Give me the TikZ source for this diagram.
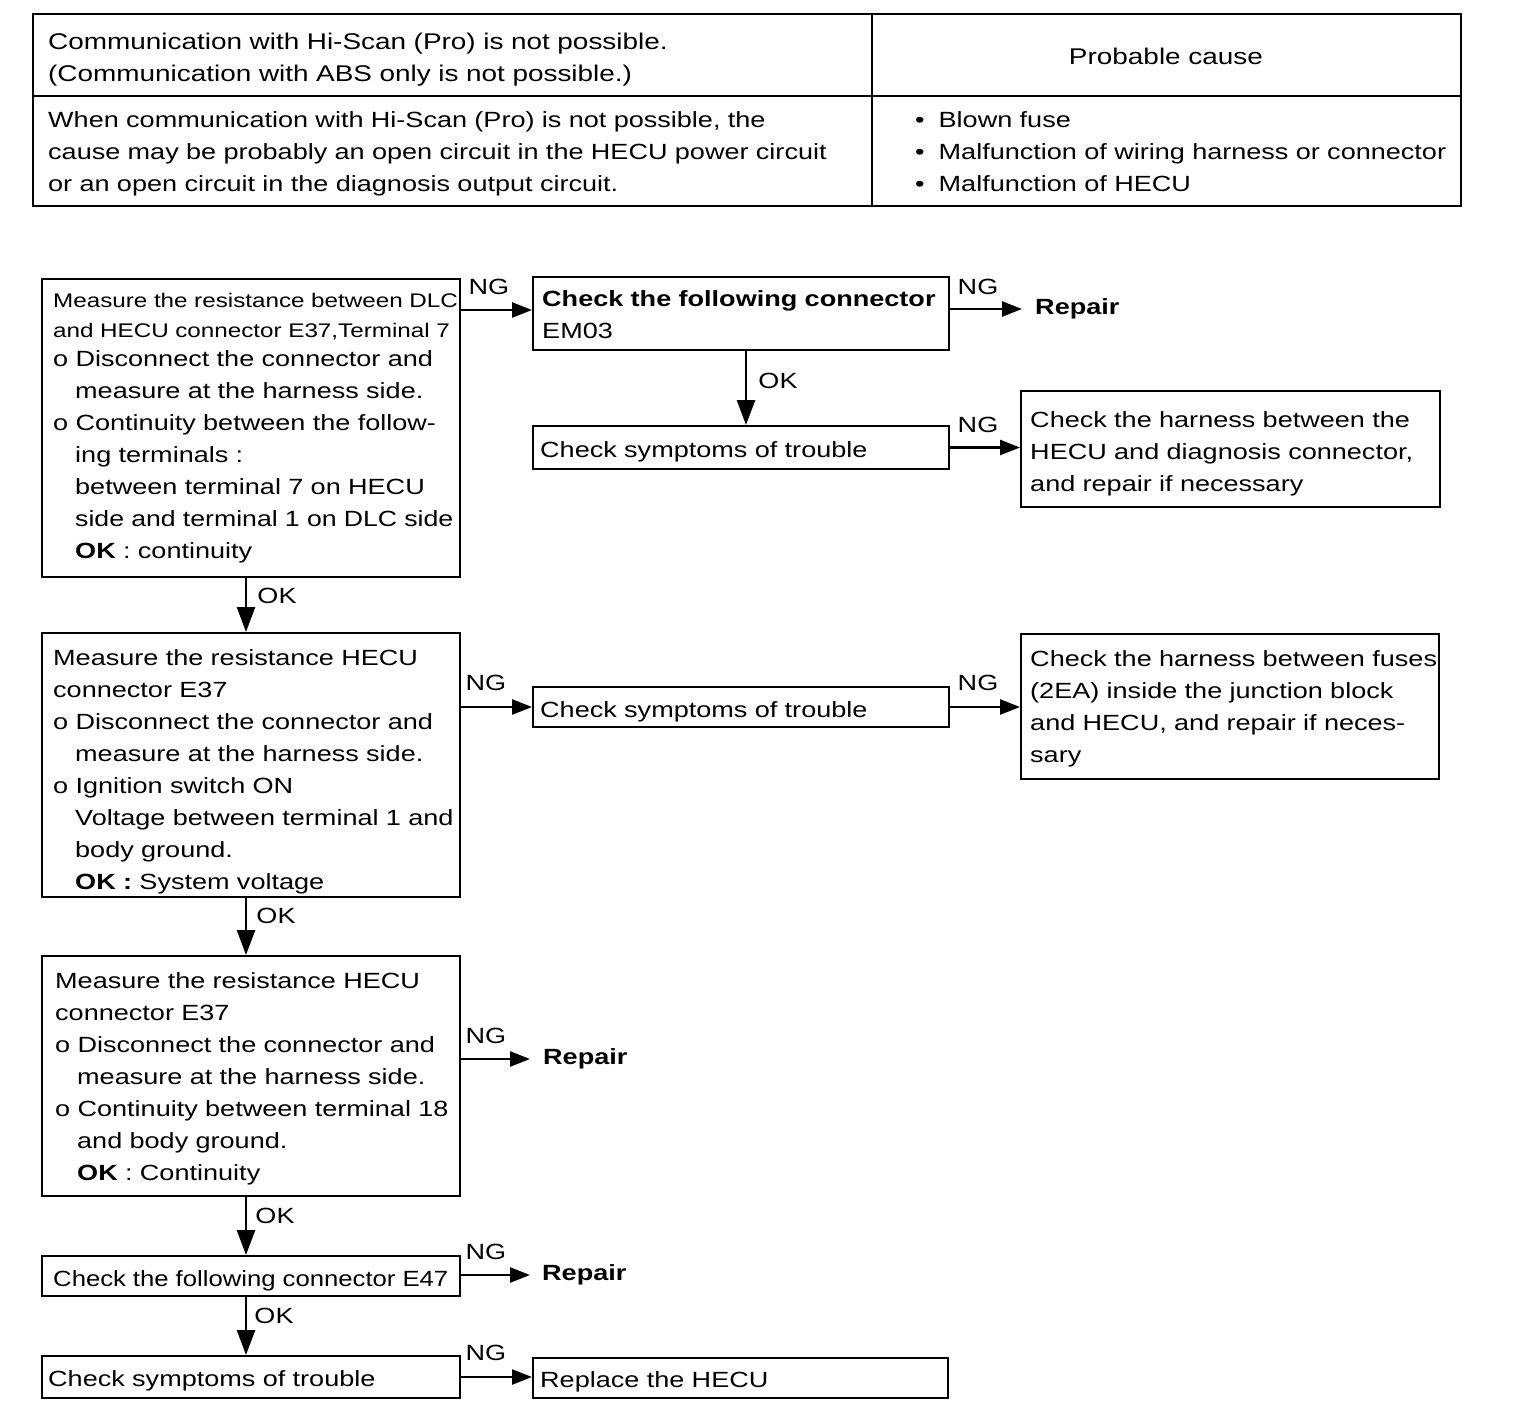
\documentclass[tikz,border=0pt]{standalone}
\usepackage{fontspec}
\setmainfont{Liberation Sans}[FakeStretch=1.23]
\usetikzlibrary{arrows.meta}
\newcommand{\ind}{\hspace*{22pt}}
\begin{document}
\begin{tikzpicture}[x=1pt,y=-1pt,
  box/.style={draw, line width=2pt, inner sep=0pt, anchor=north west},
  txt/.style={inner sep=0pt, anchor=base west, align=left, text width=1000pt, font=\fontsize{22}{32}\selectfont},
  ttxt/.style={inner sep=0pt, anchor=base west, align=left, text width=1000pt, font=\fontsize{22.7}{32}\selectfont},
  smalltxt/.style={inner sep=0pt, anchor=base west, align=left, text width=1000pt, font=\fontsize{19.7}{30}\selectfont},
  lbl/.style={inner sep=0pt, font=\fontsize{22}{26}\selectfont},
  rep/.style={inner sep=0pt, anchor=west, font=\bfseries\fontsize{22}{26}\selectfont},
  harr/.style={line width=2.5pt, -{Triangle[length=20pt,width=15pt]}},
  varr/.style={line width=2.5pt, -{Triangle[length=25pt,width=18pt]}},
  tbl/.style={line width=1.8pt}
]
\useasboundingbox (0,0) rectangle (1536,1408);

% ---------- table ----------
\draw[tbl] (33,14) rectangle (1461,206);
\draw[tbl] (872,14) -- (872,206);
\draw[tbl] (33,96) -- (1461,96);
\node[ttxt] (h1) at (48,49) {Communication with Hi-Scan (Pro) is not possible.\\(Communication with ABS only is not possible.)};
\node[inner sep=0pt, anchor=base, font=\fontsize{22.7}{32}\selectfont] (h2) at (1166,64) {Probable cause};
\node[txt] (d1) at (48,127) {When communication with Hi-Scan (Pro) is not possible, the\\cause may be probably an open circuit in the HECU power circuit\\or an open circuit in the diagnosis output circuit.};
\node[txt] (d2) at (915,127) {•\hspace{14pt}Blown fuse\\•\hspace{14pt}Malfunction of wiring harness or connector\\•\hspace{14pt}Malfunction of HECU};

% ---------- boxes ----------
\node[box, minimum width=418pt, minimum height=298pt] (b1) at (41,278) {};
\node[smalltxt] (t1a) at (53,307) {Measure the resistance between DLC\\and HECU connector E37,Terminal 7};
\node[txt] (t1b) at (53,366) {o Disconnect the connector and\\\ind measure at the harness side.\\o Continuity between the follow-\\\ind ing terminals :\\\ind between terminal 7 on HECU\\\ind \scalebox{0.985}[1]{side and terminal 1 on DLC side}\\\ind \textbf{OK} : continuity};

\node[box, minimum width=416pt, minimum height=73pt] (b2) at (532,276) {};
\node[txt] (t2) at (542,306) {\textbf{Check the following connector}\\EM03};
\node[rep] (r1) at (1035,309) {Repair};

\node[box, minimum width=416pt, minimum height=43pt] (b3) at (532,425) {};
\node[txt] (t3) at (540,457) {Check symptoms of trouble};

\node[box, minimum width=419pt, minimum height=116pt] (b4) at (1020,390) {};
\node[txt] (t4) at (1030,427) {Check the harness between the\\HECU and diagnosis connector,\\and repair if necessary};

\node[box, minimum width=418pt, minimum height=264pt] (b5) at (41,632) {};
\node[txt] (t5) at (53,665) {Measure the resistance HECU\\connector E37\\o Disconnect the connector and\\\ind measure at the harness side.\\o Ignition switch ON\\\ind Voltage between terminal 1 and\\\ind body ground.\\\ind \textbf{OK :} System voltage};

\node[box, minimum width=416pt, minimum height=40pt] (b6) at (532,686) {};
\node[txt] (t6) at (540,717) {Check symptoms of trouble};

\node[box, minimum width=418pt, minimum height=145pt] (b7) at (1020,633) {};
\node[txt] (t7) at (1030,666) {Check the harness between fuses\\(2EA) inside the junction block\\and HECU, and repair if neces-\\sary};

\node[box, minimum width=418pt, minimum height=240pt] (b8) at (41,955) {};
\node[txt] (t8) at (55,988) {Measure the resistance HECU\\connector E37\\o Disconnect the connector and\\\ind measure at the harness side.\\o Continuity between terminal 18\\\ind and body ground.\\\ind \textbf{OK} : Continuity};
\node[rep] (r2) at (543,1059) {Repair};

\node[box, minimum width=418pt, minimum height=40pt] (b9) at (41,1255) {};
\node[txt] (t9) at (53,1286) {\scalebox{0.95}[1]{Check the following connector E47}};
\node[rep] (r3) at (542,1275) {Repair};

\node[box, minimum width=418pt, minimum height=42pt] (b10) at (41,1355) {};
\node[txt] (t10) at (48,1386) {Check symptoms of trouble};

\node[box, minimum width=415pt, minimum height=40pt] (b11) at (532,1357) {};
\node[txt] (t11) at (540,1387) {Replace the HECU};

% ---------- connectors ----------
\coordinate (c1) at (459,310);
\draw[harr] (c1) -- (c1 -| b2.west);
\draw[harr] (b2.east |- r1.west) -- ([xshift=-13pt]r1.west);
\draw[varr] ([xshift=5pt]b2.south) -- ([xshift=5pt]b2.south |- b3.north);
\draw[harr] (b3.east) -- (b3.east -| b4.west);
\draw[varr] ([xshift=-5pt]b1.south) -- ([xshift=-5pt]b1.south |- b5.north);
\draw[harr] (b5.east |- b6.west) -- (b6.west);
\draw[harr] (b6.east) -- (b6.east -| b7.west);
\draw[varr] ([xshift=-5pt]b5.south) -- ([xshift=-5pt]b5.south |- b8.north);
\draw[harr] (b8.east |- r2.west) -- ([xshift=-13pt]r2.west);
\draw[varr] ([xshift=-5pt]b8.south) -- ([xshift=-5pt]b8.south |- b9.north);
\draw[harr] (b9.east |- r3.west) -- ([xshift=-12pt]r3.west);
\draw[varr] ([xshift=-5pt]b9.south) -- ([xshift=-5pt]b9.south |- b10.north);
\draw[harr] (b10.east) -- (b10.east -| b11.west);

% ---------- labels ----------
\node[lbl] (n1) at (489,287) {NG};
\node[lbl] (n2) at (978,287) {NG};
\node[lbl] (n3) at (978,425) {NG};
\node[lbl] (n4) at (486,683) {NG};
\node[lbl] (n5) at (978,683) {NG};
\node[lbl] (n6) at (486,1036) {NG};
\node[lbl] (n7) at (486,1252) {NG};
\node[lbl] (n8) at (486,1353) {NG};
\node[lbl] (o1) at (778,381) {OK};
\node[lbl] (o2) at (277,596) {OK};
\node[lbl] (o3) at (276,916) {OK};
\node[lbl] (o4) at (275,1216) {OK};
\node[lbl] (o5) at (274,1316) {OK};
\end{tikzpicture}
\end{document}
